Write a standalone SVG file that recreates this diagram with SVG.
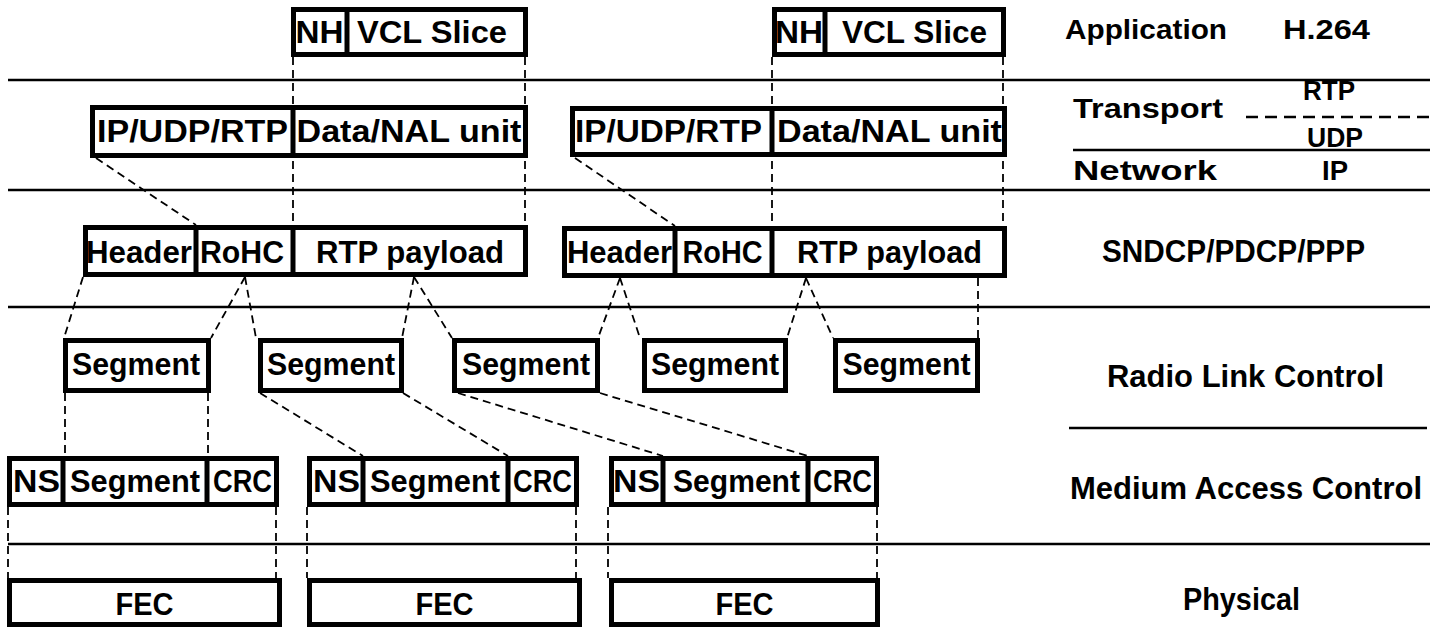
<svg xmlns="http://www.w3.org/2000/svg" width="1436" height="629" viewBox="0 0 1436 629">
  <style>
    .box { fill: #fff; stroke: #000; stroke-width: 5; }
    .div { stroke: #000; stroke-width: 5; }
    .layer { stroke: #000; stroke-width: 2.5; fill: none; }
    .sub { stroke: #000; stroke-width: 2.5; stroke-dasharray: 12 7; fill: none; }
    .conn { stroke: #000; stroke-width: 1.8; stroke-dasharray: 8 5; fill: none; }
    text { font-family: "Liberation Sans", Arial, sans-serif; font-weight: bold; fill: #000; text-anchor: middle; }
    .t { font-size: 31px; }
    .l { font-size: 31px; }
    .s { font-size: 27px; }
  </style>

  <!-- layer separators -->
  <g id="layers">
    <line class="layer" x1="8" y1="80" x2="1430" y2="80"/>
    <line class="layer" x1="8" y1="190" x2="1430" y2="190"/>
    <line class="layer" x1="8" y1="307" x2="1430" y2="307"/>
    <line class="layer" x1="1069" y1="428" x2="1427" y2="428"/>
    <line class="layer" x1="8" y1="544" x2="1430" y2="544"/>
    <line class="layer" x1="1073" y1="150" x2="1430" y2="150"/>
    <line class="sub" x1="1246" y1="117" x2="1430" y2="117"/>
  </g>

  <!-- layer names -->
  <g id="labels">
    <text class="s" x="1146" y="39" textLength="162" lengthAdjust="spacingAndGlyphs">Application</text>
    <text class="s" x="1326.5" y="39" textLength="87" lengthAdjust="spacingAndGlyphs">H.264</text>
    <text class="s" x="1329" y="100" textLength="52" lengthAdjust="spacingAndGlyphs">RTP</text>
    <text class="s" x="1148" y="118" textLength="150" lengthAdjust="spacingAndGlyphs">Transport</text>
    <text class="s" x="1335" y="147" textLength="56" lengthAdjust="spacingAndGlyphs">UDP</text>
    <text class="s" x="1145" y="180" textLength="144" lengthAdjust="spacingAndGlyphs">Network</text>
    <text class="s" x="1335" y="180" textLength="26" lengthAdjust="spacingAndGlyphs">IP</text>
    <text class="l" x="1233.5" y="262" textLength="263" lengthAdjust="spacingAndGlyphs">SNDCP/PDCP/PPP</text>
    <text class="l" x="1245.5" y="387" textLength="277" lengthAdjust="spacingAndGlyphs">Radio Link Control</text>
    <text class="l" x="1246" y="499" textLength="352" lengthAdjust="spacingAndGlyphs">Medium Access Control</text>
    <text class="l" x="1241.5" y="610" textLength="117" lengthAdjust="spacingAndGlyphs">Physical</text>
  </g>

  <!-- dashed mapping lines between layers -->
  <g id="connectors">
    <line class="conn" x1="293" y1="57" x2="293" y2="225"/>
    <line class="conn" x1="525" y1="57" x2="525" y2="225"/>
    <line class="conn" x1="772" y1="57" x2="772" y2="226"/>
    <line class="conn" x1="1003" y1="57" x2="1003" y2="226"/>
    <line class="conn" x1="96" y1="158" x2="196" y2="225"/>
    <line class="conn" x1="575" y1="158" x2="675" y2="226"/>

    <line class="conn" x1="83" y1="277" x2="64" y2="338"/>
    <line class="conn" x1="245" y1="277" x2="211" y2="338"/>
    <line class="conn" x1="245" y1="277" x2="256" y2="338"/>
    <line class="conn" x1="414" y1="277" x2="402" y2="338"/>
    <line class="conn" x1="414" y1="277" x2="452" y2="338"/>
    <line class="conn" x1="620" y1="278" x2="598" y2="338"/>
    <line class="conn" x1="620" y1="278" x2="640" y2="338"/>
    <line class="conn" x1="806" y1="278" x2="787" y2="338"/>
    <line class="conn" x1="806" y1="278" x2="833" y2="338"/>
    <line class="conn" x1="978" y1="278" x2="978" y2="338"/>

    <line class="conn" x1="65" y1="393" x2="65" y2="456"/>
    <line class="conn" x1="208" y1="393" x2="208" y2="456"/>
    <line class="conn" x1="260" y1="393" x2="363" y2="456"/>
    <line class="conn" x1="403" y1="393" x2="508" y2="456"/>
    <line class="conn" x1="458" y1="393" x2="663" y2="456"/>
    <line class="conn" x1="600" y1="393" x2="808" y2="456"/>

    <line class="conn" x1="8" y1="507" x2="8" y2="578"/>
    <line class="conn" x1="276" y1="507" x2="276" y2="578"/>
    <line class="conn" x1="307" y1="507" x2="307" y2="578"/>
    <line class="conn" x1="576" y1="507" x2="576" y2="578"/>
    <line class="conn" x1="608" y1="507" x2="608" y2="578"/>
    <line class="conn" x1="877" y1="507" x2="877" y2="578"/>
  </g>

  <!-- application layer: H.264 NAL units -->
  <g id="nal1">
    <rect class="box" x="293.5" y="9.5" width="232" height="45"/>
    <line class="div" x1="347" y1="9.5" x2="347" y2="54.5"/>
    <text class="t" x="319.5" y="43" textLength="48" lengthAdjust="spacingAndGlyphs">NH</text>
    <text class="t" x="432" y="43" textLength="150" lengthAdjust="spacingAndGlyphs">VCL Slice</text>
  </g>
  <g id="nal2">
    <rect class="box" x="774.5" y="9.5" width="229" height="45"/>
    <line class="div" x1="825" y1="9.5" x2="825" y2="54.5"/>
    <text class="t" x="799" y="43" textLength="48" lengthAdjust="spacingAndGlyphs">NH</text>
    <text class="t" x="914.5" y="43" textLength="145" lengthAdjust="spacingAndGlyphs">VCL Slice</text>
  </g>

  <!-- transport / network: RTP packets -->
  <g id="rtp1">
    <rect class="box" x="92.5" y="107.5" width="433" height="48"/>
    <line class="div" x1="293" y1="107.5" x2="293" y2="155.5"/>
    <text class="t" x="192.5" y="142" textLength="191" lengthAdjust="spacingAndGlyphs">IP/UDP/RTP</text>
    <text class="t" x="409" y="142" textLength="225" lengthAdjust="spacingAndGlyphs">Data/NAL unit</text>
  </g>
  <g id="rtp2">
    <rect class="box" x="572.5" y="108.5" width="432" height="46"/>
    <line class="div" x1="772" y1="108.5" x2="772" y2="154.5"/>
    <text class="t" x="668.5" y="142" textLength="187" lengthAdjust="spacingAndGlyphs">IP/UDP/RTP</text>
    <text class="t" x="889.5" y="142" textLength="225" lengthAdjust="spacingAndGlyphs">Data/NAL unit</text>
  </g>

  <!-- SNDCP/PDCP/PPP frames -->
  <g id="pdcp1">
    <rect class="box" x="85.5" y="227.5" width="440" height="47"/>
    <line class="div" x1="196" y1="227.5" x2="196" y2="274.5"/>
    <line class="div" x1="293" y1="227.5" x2="293" y2="274.5"/>
    <text class="t" x="139" y="263" textLength="106" lengthAdjust="spacingAndGlyphs">Header</text>
    <text class="t" x="242" y="263" textLength="84" lengthAdjust="spacingAndGlyphs">RoHC</text>
    <text class="t" x="410" y="263" textLength="188" lengthAdjust="spacingAndGlyphs">RTP payload</text>
  </g>
  <g id="pdcp2">
    <rect class="box" x="564.5" y="228.5" width="440" height="47"/>
    <line class="div" x1="675" y1="228.5" x2="675" y2="275.5"/>
    <line class="div" x1="772" y1="228.5" x2="772" y2="275.5"/>
    <text class="t" x="619.5" y="263" textLength="105" lengthAdjust="spacingAndGlyphs">Header</text>
    <text class="t" x="722.5" y="263" textLength="80" lengthAdjust="spacingAndGlyphs">RoHC</text>
    <text class="t" x="889.5" y="263" textLength="185" lengthAdjust="spacingAndGlyphs">RTP payload</text>
  </g>

  <!-- RLC segments -->
  <g id="rlc1">
    <rect class="box" x="65.5" y="340.5" width="143" height="50"/>
    <text class="t" x="136" y="375" textLength="128" lengthAdjust="spacingAndGlyphs">Segment</text>
  </g>
  <g id="rlc2">
    <rect class="box" x="260.5" y="340.5" width="141" height="50"/>
    <text class="t" x="331" y="375" textLength="128" lengthAdjust="spacingAndGlyphs">Segment</text>
  </g>
  <g id="rlc3">
    <rect class="box" x="454.5" y="340.5" width="143" height="50"/>
    <text class="t" x="526" y="375" textLength="128" lengthAdjust="spacingAndGlyphs">Segment</text>
  </g>
  <g id="rlc4">
    <rect class="box" x="644.5" y="340.5" width="141" height="50"/>
    <text class="t" x="715" y="375" textLength="128" lengthAdjust="spacingAndGlyphs">Segment</text>
  </g>
  <g id="rlc5">
    <rect class="box" x="835.5" y="340.5" width="142" height="50"/>
    <text class="t" x="906.5" y="375" textLength="128" lengthAdjust="spacingAndGlyphs">Segment</text>
  </g>

  <!-- MAC PDUs -->
  <g id="mac1">
    <rect class="box" x="9.5" y="458.5" width="267" height="46"/>
    <line class="div" x1="63" y1="458.5" x2="63" y2="504.5"/>
    <line class="div" x1="207" y1="458.5" x2="207" y2="504.5"/>
    <text class="t" x="36.5" y="492" textLength="47" lengthAdjust="spacingAndGlyphs">NS</text>
    <text class="t" x="135" y="492" textLength="130" lengthAdjust="spacingAndGlyphs">Segment</text>
    <text class="t" x="242.5" y="492" textLength="59" lengthAdjust="spacingAndGlyphs">CRC</text>
  </g>
  <g id="mac2">
    <rect class="box" x="309.5" y="458.5" width="267" height="46"/>
    <line class="div" x1="363" y1="458.5" x2="363" y2="504.5"/>
    <line class="div" x1="508" y1="458.5" x2="508" y2="504.5"/>
    <text class="t" x="336.5" y="492" textLength="47" lengthAdjust="spacingAndGlyphs">NS</text>
    <text class="t" x="435" y="492" textLength="130" lengthAdjust="spacingAndGlyphs">Segment</text>
    <text class="t" x="542.5" y="492" textLength="59" lengthAdjust="spacingAndGlyphs">CRC</text>
  </g>
  <g id="mac3">
    <rect class="box" x="611.5" y="458.5" width="265" height="46"/>
    <line class="div" x1="663" y1="458.5" x2="663" y2="504.5"/>
    <line class="div" x1="808" y1="458.5" x2="808" y2="504.5"/>
    <text class="t" x="636.5" y="492" textLength="47" lengthAdjust="spacingAndGlyphs">NS</text>
    <text class="t" x="736.5" y="492" textLength="127" lengthAdjust="spacingAndGlyphs">Segment</text>
    <text class="t" x="842.5" y="492" textLength="59" lengthAdjust="spacingAndGlyphs">CRC</text>
  </g>

  <!-- physical layer FEC blocks -->
  <g id="fec1">
    <rect class="box" x="9.5" y="580.5" width="270" height="44"/>
    <text class="t" x="144.5" y="615" textLength="58" lengthAdjust="spacingAndGlyphs">FEC</text>
  </g>
  <g id="fec2">
    <rect class="box" x="309.5" y="580.5" width="270" height="44"/>
    <text class="t" x="444.5" y="615" textLength="58" lengthAdjust="spacingAndGlyphs">FEC</text>
  </g>
  <g id="fec3">
    <rect class="box" x="611.5" y="580.5" width="266" height="44"/>
    <text class="t" x="744.5" y="615" textLength="58" lengthAdjust="spacingAndGlyphs">FEC</text>
  </g>
</svg>
